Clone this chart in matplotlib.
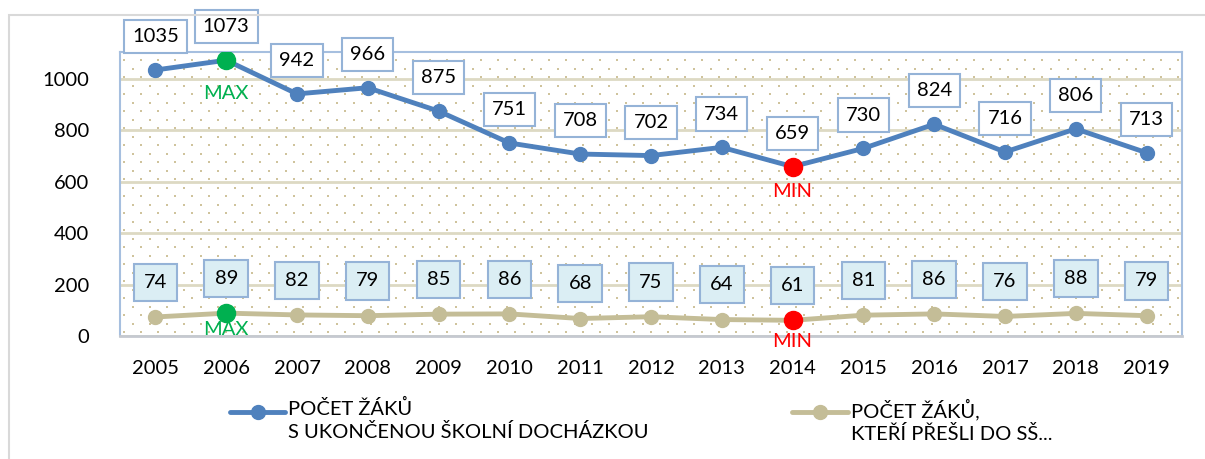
import numpy as np
import matplotlib
matplotlib.use("Agg")
import matplotlib.pyplot as plt
from matplotlib.lines import Line2D
from matplotlib.patches import Rectangle

plt.rcParams['font.family'] = ['Lato', 'DejaVu Sans']

# ---- data ----
years = ["2005", "2006", "2007", "2008", "2009", "2010", "2011", "2012",
         "2013", "2014", "2015", "2016", "2017", "2018", "2019"]
finished = [1035, 1073, 942, 966, 875, 751, 708, 702, 734, 659, 730, 824, 716, 806, 713]
to_secondary = [74, 89, 82, 79, 85, 86, 68, 75, 64, 61, 81, 86, 76, 88, 79]
label_finished = "POČET ŽÁKŮ\nS UKONČENOU ŠKOLNÍ DOCHÁZKOU"
label_secondary = "POČET ŽÁKŮ,\nKTEŘÍ PŘEŠLI DO SŠ..."
yticks = [0, 200, 400, 600, 800, 1000]

# ---- style ----
BLUE = "#4f81bd"
TAN = "#c4bd97"
GREEN = "#00b050"
RED = "#ff0000"
BOX_EDGE = "#95b3d7"
GRID = "#ddd9c3"
FS = 14.5

W, H, DPI = 1205, 459, 100
fig = plt.figure(figsize=(W / DPI, H / DPI), dpi=DPI)

# outer frame of the chart object
fig.add_artist(Rectangle((9 / W, -0.1), 1.2, (H - 15) / H + 0.1,
                         transform=fig.transFigure, fill=False,
                         edgecolor="#d9d9d9", linewidth=1.5))

ax_l, ax_r, ax_t, ax_b = 120, 1182, 52, 336
ax = fig.add_axes([ax_l / W, (H - ax_b) / H, (ax_r - ax_l) / W, (ax_b - ax_t) / H])

x = np.arange(len(years))
ax.set_xlim(-0.5, len(years) - 0.5)
ax.set_ylim(0, 1105)

# dotted background pattern
aw, ah = ax_r - ax_l, ax_b - ax_t
step = 17.0
dx, dy = [], []
for i, yy in enumerate(np.arange(4, ah, step / 2)):
    off = 4 if i % 2 == 0 else 4 + step / 2
    for xx in np.arange(off, aw, step):
        dx.append(xx / aw)
        dy.append(yy / ah)
ax.scatter(dx, dy, s=1.5, color="#cfc39c", marker="s", linewidths=0,
           transform=ax.transAxes, zorder=0)

ax.set_yticks(yticks)
ax.set_xticks(x)
ax.set_xticklabels(years)
ax.yaxis.grid(True, color=GRID, linewidth=2, zorder=1)
ax.set_axisbelow(True)
ax.tick_params(axis="both", length=0, labelsize=FS)
ax.tick_params(axis="y", pad=22)
ax.tick_params(axis="x", pad=17)

for s in ("left", "top", "right"):
    ax.spines[s].set_color("#a6bfdf")
    ax.spines[s].set_linewidth(1.5)
ax.spines["bottom"].set_color("#c5c9d0")
ax.spines["bottom"].set_linewidth(2)

ax.plot(x, finished, color=BLUE, lw=3.5, marker="o", ms=10, zorder=4,
        solid_capstyle="round")
ax.plot(x, to_secondary, color=TAN, lw=3.5, marker="o", ms=10, zorder=4,
        solid_capstyle="round")

# value labels
for xi, v in zip(x, finished):
    ax.annotate(str(v), (xi, v), xytext=(0, 24), textcoords="offset points",
                ha="center", va="center", fontsize=FS, zorder=6,
                bbox=dict(boxstyle="square,pad=0.4", fc="white",
                          ec=BOX_EDGE, lw=1.5))
for xi, v in zip(x, to_secondary):
    ax.annotate(str(v), (xi, v), xytext=(0, 25), textcoords="offset points",
                ha="center", va="center", fontsize=FS, zorder=6,
                bbox=dict(boxstyle="square,pad=0.5", fc="#dbeef4",
                          ec=BOX_EDGE, lw=1.5))

# extremes
def mark_extreme(series, idx, text, color, dy):
    ax.plot(x[idx], series[idx], "o", color=color, ms=13, zorder=5)
    ax.annotate(text, (x[idx], series[idx]), xytext=(0, dy),
                textcoords="offset points", ha="center", va="center",
                color=color, fontsize=FS, zorder=6)

i_max = int(np.argmax(finished))
i_min = int(np.argmin(finished))
mark_extreme(finished, i_max, "MAX", GREEN, -24)
mark_extreme(finished, i_min, "MIN", RED, -18)
j_max = int(np.argmax(to_secondary))
j_min = int(np.argmin(to_secondary))
mark_extreme(to_secondary, j_max, "MAX", GREEN, -12)
mark_extreme(to_secondary, j_min, "MIN", RED, -15)

# legend
def legend_item(x0, x1, color, text):
    yl = 1 - 412 / H
    fig.add_artist(Line2D([x0 / W, x1 / W], [yl, yl], color=color, lw=3.5,
                          solid_capstyle="round", transform=fig.transFigure))
    fig.add_artist(Line2D([(x0 + x1) / 2 / W], [yl], color=color, marker="o",
                          ms=10, transform=fig.transFigure))
    fig.text((x1 + 3) / W, 1 - 399 / H, text, ha="left", va="top",
             fontsize=FS, linespacing=1.3)

legend_item(230, 285, BLUE, label_finished)
legend_item(792, 848, TAN, label_secondary)

fig.savefig("out.png", dpi=DPI)
